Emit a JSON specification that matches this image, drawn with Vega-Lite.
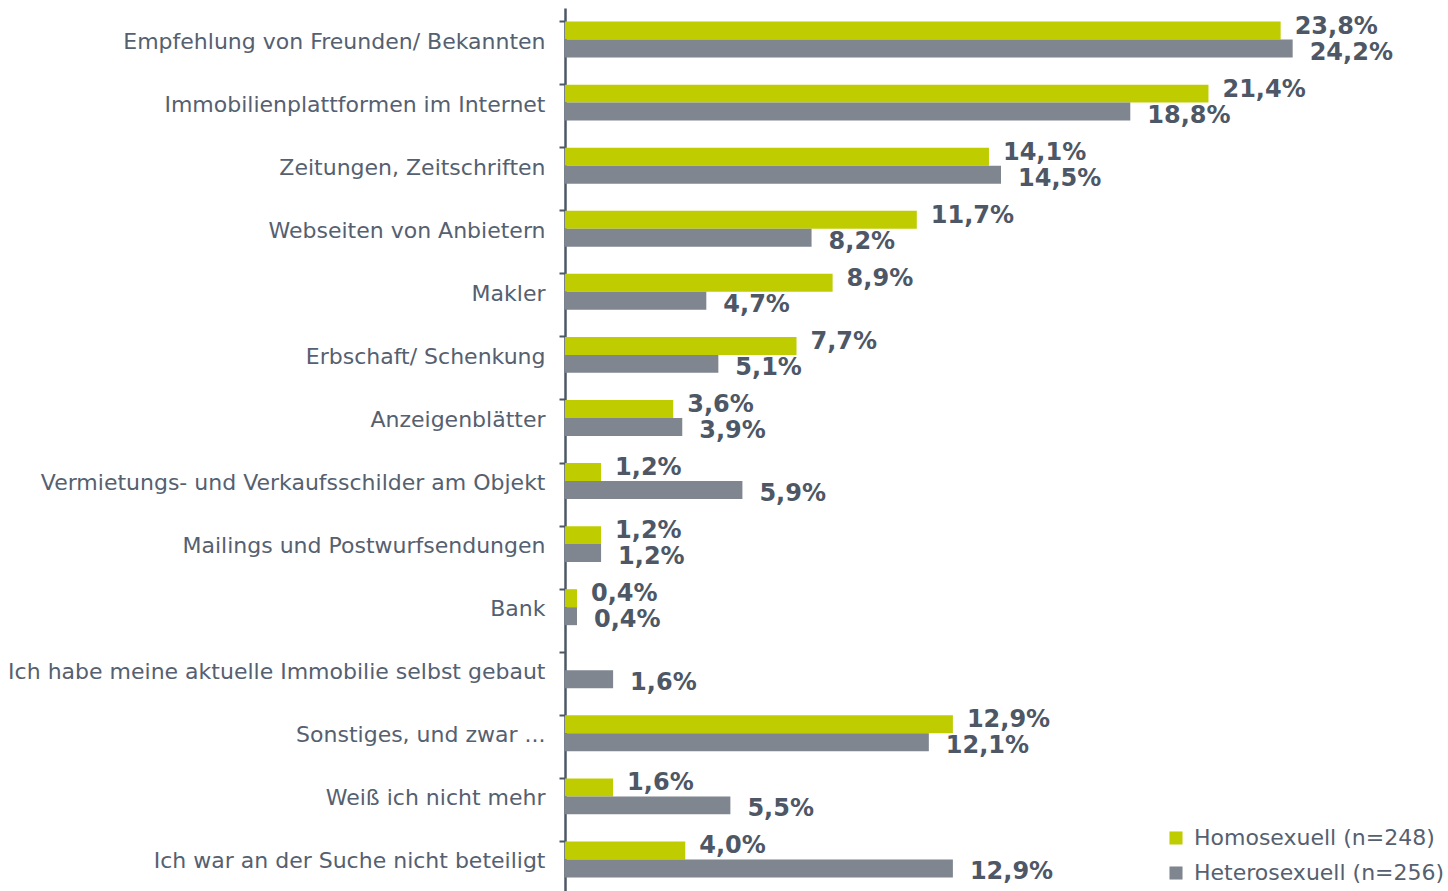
{
  "$schema": "https://vega.github.io/schema/vega-lite/v6.json",
  "width": 872,
  "height": 883,
  "autosize": {"type": "none"},
  "padding": {"left": 565, "top": 8, "right": 11, "bottom": 0},
  "background": "white",
  "config": {
    "view": {"stroke": null},
    "locale": {"number": {"decimal": ",", "thousands": ".", "grouping": [3], "currency": ["", " €"]}}
  },
  "data": {
    "values": [
      {"cat": "Empfehlung von Freunden/ Bekannten", "group": "Homosexuell (n=248)", "value": 0.238},
      {"cat": "Empfehlung von Freunden/ Bekannten", "group": "Heterosexuell (n=256)", "value": 0.242},
      {"cat": "Immobilienplattformen im Internet", "group": "Homosexuell (n=248)", "value": 0.214},
      {"cat": "Immobilienplattformen im Internet", "group": "Heterosexuell (n=256)", "value": 0.188},
      {"cat": "Zeitungen, Zeitschriften", "group": "Homosexuell (n=248)", "value": 0.141},
      {"cat": "Zeitungen, Zeitschriften", "group": "Heterosexuell (n=256)", "value": 0.145},
      {"cat": "Webseiten von Anbietern", "group": "Homosexuell (n=248)", "value": 0.117},
      {"cat": "Webseiten von Anbietern", "group": "Heterosexuell (n=256)", "value": 0.082},
      {"cat": "Makler", "group": "Homosexuell (n=248)", "value": 0.089},
      {"cat": "Makler", "group": "Heterosexuell (n=256)", "value": 0.047},
      {"cat": "Erbschaft/ Schenkung", "group": "Homosexuell (n=248)", "value": 0.077},
      {"cat": "Erbschaft/ Schenkung", "group": "Heterosexuell (n=256)", "value": 0.051},
      {"cat": "Anzeigenblätter", "group": "Homosexuell (n=248)", "value": 0.036},
      {"cat": "Anzeigenblätter", "group": "Heterosexuell (n=256)", "value": 0.039},
      {"cat": "Vermietungs- und Verkaufsschilder am Objekt", "group": "Homosexuell (n=248)", "value": 0.012},
      {"cat": "Vermietungs- und Verkaufsschilder am Objekt", "group": "Heterosexuell (n=256)", "value": 0.059},
      {"cat": "Mailings und Postwurfsendungen", "group": "Homosexuell (n=248)", "value": 0.012},
      {"cat": "Mailings und Postwurfsendungen", "group": "Heterosexuell (n=256)", "value": 0.012},
      {"cat": "Bank", "group": "Homosexuell (n=248)", "value": 0.004},
      {"cat": "Bank", "group": "Heterosexuell (n=256)", "value": 0.004},
      {"cat": "Ich habe meine aktuelle Immobilie selbst gebaut", "group": "Heterosexuell (n=256)", "value": 0.016},
      {"cat": "Sonstiges, und zwar ...", "group": "Homosexuell (n=248)", "value": 0.129},
      {"cat": "Sonstiges, und zwar ...", "group": "Heterosexuell (n=256)", "value": 0.121},
      {"cat": "Weiß ich nicht mehr", "group": "Homosexuell (n=248)", "value": 0.016},
      {"cat": "Weiß ich nicht mehr", "group": "Heterosexuell (n=256)", "value": 0.055},
      {"cat": "Ich war an der Suche nicht beteiligt", "group": "Homosexuell (n=248)", "value": 0.04},
      {"cat": "Ich war an der Suche nicht beteiligt", "group": "Heterosexuell (n=256)", "value": 0.129}
    ]
  },
  "encoding": {
    "y": {
      "field": "cat",
      "type": "nominal",
      "sort": null,
      "scale": {"paddingInner": 0.43, "paddingOuter": 0.215},
      "axis": {
        "title": null,
        "domainColor": "#4d5766",
        "domainWidth": 2.5,
        "tickColor": "#4d5766",
        "tickWidth": 2,
        "tickSize": 6,
        "bandPosition": 0,
        "labelBandPosition": 0.5,
        "labelFont": "DejaVu Sans",
        "labelFontSize": 22,
        "labelColor": "#556070",
        "labelPadding": 14,
        "labelLimit": 600,
        "labelOffset": 2
      }
    },
    "yOffset": {"field": "group", "type": "nominal", "sort": ["Homosexuell (n=248)", "Heterosexuell (n=256)"]},
    "x": {"field": "value", "type": "quantitative", "scale": {"domain": [0, 0.29]}, "axis": null}
  },
  "layer": [
    {
      "mark": {"type": "bar"},
      "encoding": {
        "color": {
          "field": "group",
          "type": "nominal",
          "sort": ["Homosexuell (n=248)", "Heterosexuell (n=256)"],
          "scale": {"domain": ["Homosexuell (n=248)", "Heterosexuell (n=256)"], "range": ["#bfcc00", "#7f8690"]},
          "legend": {
            "title": null,
            "orient": "none",
            "legendX": 600,
            "legendY": 819,
            "symbolType": "square",
            "symbolSize": 170,
            "symbolStrokeWidth": 0,
            "labelFont": "DejaVu Sans",
            "labelFontSize": 22,
            "labelColor": "#556070",
            "labelLimit": 400,
            "rowPadding": 13,
            "labelOffset": 7
          }
        }
      }
    },
    {
      "transform": [{"filter": "datum.group === 'Homosexuell (n=248)'"}],
      "mark": {"type": "text", "align": "left", "baseline": "middle", "dx": 14, "dy": -4, "font": "DejaVu Sans", "fontWeight": "bold", "fontSize": 24, "color": "#4d5766"},
      "encoding": {"text": {"field": "value", "type": "quantitative", "format": ".1%"}}
    },
    {
      "transform": [{"filter": "datum.group === 'Heterosexuell (n=256)'"}],
      "mark": {"type": "text", "align": "left", "baseline": "middle", "dx": 17, "dy": 4, "font": "DejaVu Sans", "fontWeight": "bold", "fontSize": 24, "color": "#4d5766"},
      "encoding": {"text": {"field": "value", "type": "quantitative", "format": ".1%"}}
    }
  ]
}
